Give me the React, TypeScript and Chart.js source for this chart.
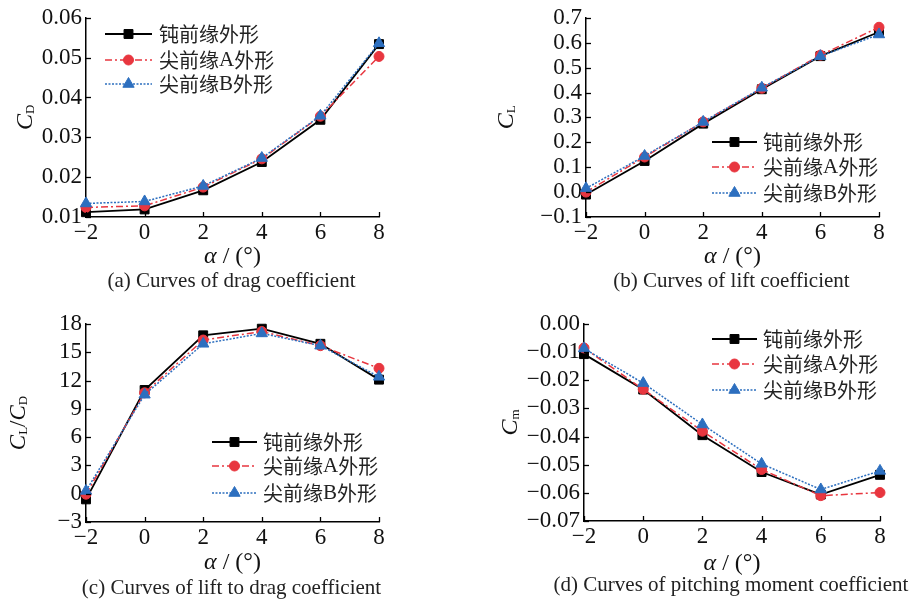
import React, { useEffect, useRef } from 'react';
import { Chart, registerables } from 'chart.js';

Chart.register(...registerables);

// ---------------- data ----------------
const ALPHA = [-2, 0, 2, 4, 6, 8];
const SERIES_NAMES = ['钝前缘外形', '尖前缘A外形', '尖前缘B外形'];

const CD_BLUNT = [0.0112, 0.0119, 0.0167, 0.0238, 0.0344, 0.0534];
const CD_SHARP_A = [0.0124, 0.0128, 0.0175, 0.0246, 0.0353, 0.0503];
const CD_SHARP_B = [0.0134, 0.0139, 0.0178, 0.0248, 0.0354, 0.0536];

const CL_BLUNT = [-0.01, 0.125, 0.275, 0.413, 0.546, 0.643];
const CL_SHARP_A = [0.0, 0.141, 0.282, 0.417, 0.55, 0.662];
const CL_SHARP_B = [0.015, 0.145, 0.282, 0.419, 0.546, 0.633];

const LD_BLUNT = [-0.6, 11.0, 16.8, 17.5, 15.9, 12.1];
const LD_SHARP_A = [-0.05, 10.7, 16.3, 17.2, 15.7, 13.3];
const LD_SHARP_B = [0.3, 10.5, 15.9, 17.0, 15.7, 12.4];

const CM_BLUNT = [-0.0107, -0.0233, -0.0395, -0.0526, -0.0606, -0.0536];
const CM_SHARP_A = [-0.0085, -0.0232, -0.0381, -0.0517, -0.061, -0.0599];
const CM_SHARP_B = [-0.0087, -0.021, -0.0357, -0.0497, -0.0588, -0.0522];

// tick ranges: [min, max, step, decimals]
const X_TICKS = [-2, 8, 2, 0];
const Y_TICKS_CD = [0.01, 0.06, 0.01, 2];
const Y_TICKS_CL = [-0.1, 0.7, 0.1, 1];
const Y_TICKS_LD = [-3, 18, 3, 0];
const Y_TICKS_CM = [-0.07, 0.0, 0.01, 2];

const CAPTIONS = [
  '(a) Curves of drag coefficient',
  '(b) Curves of lift coefficient',
  '(c) Curves of lift to drag coefficient',
  '(d) Curves of pitching moment coefficient',
];

// ---------------- styles ----------------
const SERIF = '"Liberation Serif", "Times New Roman", serif';
const CJK = '"Noto Sans CJK SC", sans-serif';
const STYLES = [
  { color: '#000000', dash: [] as number[], width: 1.8, point: 'rect', radius: 6.3 },
  { color: '#E8363F', dash: [7, 3, 2, 3], width: 1.5, point: 'circle', radius: 5 },
  { color: '#2D6FBF', dash: [2, 1.5], width: 1.5, point: 'triangle', radius: 6.5 },
];

type Part = { text: string; font: string; dy?: number };

const yTitleParts: Part[][] = [
  [
    { text: 'C', font: `italic 24px ${SERIF}` },
    { text: 'D', font: `13px ${SERIF}`, dy: 2 },
  ],
  [
    { text: 'C', font: `italic 24px ${SERIF}` },
    { text: 'L', font: `13px ${SERIF}`, dy: 2 },
  ],
  [
    { text: 'C', font: `italic 23px ${SERIF}` },
    { text: 'L', font: `13px ${SERIF}`, dy: 2 },
    { text: '/', font: `23px ${SERIF}` },
    { text: 'C', font: `italic 23px ${SERIF}` },
    { text: 'D', font: `13px ${SERIF}`, dy: 2 },
  ],
  [
    { text: 'C', font: `italic 24px ${SERIF}` },
    { text: 'm', font: `13px ${SERIF}`, dy: 2 },
  ],
];

// layout (panel-local coordinates)
const PANELS = [
  {
    left: 0, top: 0, width: 456, height: 300,
    area: { l: 86, t: 15, r: 379, b: 217 },
    yTitleX: 32, xTitleY: 257, captionY: 281,
    legend: { x0: 105, x1: 152, textX: 159, rows: [34, 60, 84] },
  },
  {
    left: 456, top: 0, width: 457, height: 300,
    area: { l: 130, t: 15, r: 423, b: 217 },
    yTitleX: 57, xTitleY: 257, captionY: 281,
    legend: { x0: 256, x1: 301, textX: 307, rows: [142, 167, 193] },
  },
  {
    left: 0, top: 300, width: 456, height: 304,
    area: { l: 86, t: 24, r: 379, b: 222 },
    yTitleX: 25, xTitleY: 263, captionY: 288,
    legend: { x0: 212, x1: 257, textX: 263, rows: [142, 166, 193] },
  },
  {
    left: 456, top: 300, width: 457, height: 304,
    area: { l: 128, t: 24, r: 424, b: 221 },
    yTitleX: 61, xTitleY: 264, captionY: 285,
    legend: { x0: 256, x1: 301, textX: 307, rows: [39, 64, 90] },
  },
];

const SERIES_SETS = [
  [CD_BLUNT, CD_SHARP_A, CD_SHARP_B],
  [CL_BLUNT, CL_SHARP_A, CL_SHARP_B],
  [LD_BLUNT, LD_SHARP_A, LD_SHARP_B],
  [CM_BLUNT, CM_SHARP_A, CM_SHARP_B],
];
const Y_TICK_SETS = [Y_TICKS_CD, Y_TICKS_CL, Y_TICKS_LD, Y_TICKS_CM];

const X_AXIS_H = 30;

function fmt(v: number, dec: number) {
  if (Math.abs(v) < 1e-9) v = 0;
  return v.toFixed(dec).replace('-', '\u2212');
}

function drawParts(ctx: CanvasRenderingContext2D, parts: Part[], x: number, y: number, align: 'center' | 'left') {
  const widths = parts.map((p) => {
    ctx.font = p.font;
    return ctx.measureText(p.text).width;
  });
  const total = widths.reduce((a, b) => a + b, 0);
  let cx = align === 'center' ? x - total / 2 : x;
  ctx.textAlign = 'left';
  parts.forEach((p, i) => {
    ctx.font = p.font;
    ctx.fillText(p.text, cx, y + (p.dy || 0));
    cx += widths[i];
  });
}

function drawMarker(ctx: CanvasRenderingContext2D, style: string, x: number, y: number, r: number) {
  ctx.beginPath();
  if (style === 'rect') {
    const s = Math.SQRT1_2 * r;
    ctx.rect(x - s, y - s, 2 * s, 2 * s);
  } else if (style === 'circle') {
    ctx.arc(x, y, r, 0, Math.PI * 2);
  } else {
    let rad = 0;
    ctx.moveTo(x + Math.sin(rad) * r, y - Math.cos(rad) * r);
    rad += (2 * Math.PI) / 3;
    ctx.lineTo(x + Math.sin(rad) * r, y - Math.cos(rad) * r);
    rad += (2 * Math.PI) / 3;
    ctx.lineTo(x + Math.sin(rad) * r, y - Math.cos(rad) * r);
    ctx.closePath();
  }
  ctx.fill();
  ctx.stroke();
}

const decorPlugin = {
  id: 'decor',
  afterDraw(chart: any, _args: any, opts: any) {
    const ctx: CanvasRenderingContext2D = chart.ctx;
    const area = chart.chartArea;
    const panel = opts.panel;
    const idx = opts.index;
    ctx.save();

    // inside tick marks
    ctx.strokeStyle = '#000';
    ctx.lineWidth = 1.3;
    const ys = chart.scales.y;
    ys.ticks.forEach((t: any) => {
      const y = Math.round(ys.getPixelForValue(t.value)) + 0.5;
      ctx.beginPath();
      ctx.moveTo(area.left, y);
      ctx.lineTo(area.left + 5, y);
      ctx.stroke();
    });
    const xs = chart.scales.x;
    xs.ticks.forEach((t: any) => {
      const x = Math.round(xs.getPixelForValue(t.value)) + 0.5;
      ctx.beginPath();
      ctx.moveTo(x, area.bottom);
      ctx.lineTo(x, area.bottom - 5);
      ctx.stroke();
    });

    // y title
    ctx.fillStyle = '#111';
    ctx.textBaseline = 'alphabetic';
    ctx.save();
    ctx.translate(panel.yTitleX, (area.top + area.bottom) / 2);
    ctx.rotate(-Math.PI / 2);
    drawParts(ctx, yTitleParts[idx], 0, 0, 'center');
    ctx.restore();

    // x title
    ctx.textBaseline = 'middle';
    drawParts(
      ctx,
      [
        { text: 'α', font: `italic 24px ${SERIF}` },
        { text: ' / (°)', font: `24px ${SERIF}` },
      ],
      (area.left + area.right) / 2,
      panel.xTitleY,
      'center'
    );

    // caption
    ctx.fillStyle = '#222';
    drawParts(ctx, [{ text: CAPTIONS[idx], font: `21px ${SERIF}` }], (area.left + area.right) / 2 - 1, panel.captionY, 'center');

    // legend
    const lg = panel.legend;
    SERIES_NAMES.forEach((name, i) => {
      const st = STYLES[i];
      const y = lg.rows[i];
      ctx.strokeStyle = st.color;
      ctx.lineWidth = st.width;
      ctx.setLineDash(st.dash);
      ctx.beginPath();
      ctx.moveTo(lg.x0, y);
      ctx.lineTo(lg.x1, y);
      ctx.stroke();
      ctx.setLineDash([]);
      ctx.fillStyle = st.color;
      ctx.lineWidth = 1;
      drawMarker(ctx, st.point, (lg.x0 + lg.x1) / 2, y, st.radius);
      const parts: Part[] = name
        .split(/([A-Z]+)/)
        .filter((s) => s.length > 0)
        .map((s) => ({ text: s, font: /[A-Z]/.test(s) ? `21px ${SERIF}` : `20px ${CJK}` }));
      ctx.fillStyle = '#222';
      ctx.textBaseline = 'middle';
      drawParts(ctx, parts, lg.textX, y, 'left');
    });

    ctx.restore();
  },
};

function Panel({ index }: { index: number }) {
  const ref = useRef<HTMLCanvasElement>(null);
  const panel = PANELS[index];
  useEffect(() => {
    if (!ref.current) return;
    const series = SERIES_SETS[index];
    const yt = Y_TICK_SETS[index];
    const a = panel.area;
    const chart = new Chart(ref.current, {
      type: 'line',
      data: {
        datasets: series.map((vals, i) => ({
          label: SERIES_NAMES[i],
          data: ALPHA.map((x, k) => ({ x, y: vals[k] })),
          borderColor: STYLES[i].color,
          backgroundColor: STYLES[i].color,
          borderWidth: STYLES[i].width,
          borderDash: STYLES[i].dash,
          pointStyle: STYLES[i].point as any,
          pointRadius: STYLES[i].radius,
          pointBorderWidth: 1,
          pointBackgroundColor: STYLES[i].color,
          pointBorderColor: STYLES[i].color,
          tension: 0,
          clip: false as any,
          order: 3 - i,
        })),
      },
      options: {
        responsive: false,
        animation: false,
        events: [],
        layout: {
          padding: {
            left: 0,
            top: a.t,
            right: panel.width - a.r,
            bottom: panel.height - a.b - X_AXIS_H,
          },
        },
        plugins: {
          legend: { display: false },
          tooltip: { enabled: false },
          decor: { panel, index },
        } as any,
        scales: {
          x: {
            type: 'linear',
            min: X_TICKS[0],
            max: X_TICKS[1],
            grid: { display: false, drawTicks: false },
            border: { display: true, color: '#000', width: 1.5 },
            ticks: {
              stepSize: X_TICKS[2],
              autoSkip: false,
              padding: 2,
              color: '#111',
              font: { family: SERIF, size: 23 },
              callback: (v: any) => fmt(Number(v), X_TICKS[3]),
            },
            afterFit: (s: any) => {
              s.height = X_AXIS_H;
            },
          },
          y: {
            type: 'linear',
            min: yt[0],
            max: yt[1],
            grid: { display: false, drawTicks: false },
            border: { display: true, color: '#000', width: 1.5 },
            ticks: {
              stepSize: yt[2],
              autoSkip: false,
              padding: 4,
              color: '#111',
              font: { family: SERIF, size: 23 },
              callback: (v: any) => fmt(Number(v), yt[3]),
            },
            afterFit: (s: any) => {
              s.width = a.l;
            },
          },
        },
      },
      plugins: [decorPlugin as any],
    });
    return () => chart.destroy();
  }, [index]);
  return (
    <canvas
      ref={ref}
      width={panel.width}
      height={panel.height}
      style={{
        position: 'absolute',
        left: panel.left,
        top: panel.top,
        width: panel.width,
        height: panel.height,
      }}
    />
  );
}

export default function App() {
  return (
    <div
      style={{
        position: 'absolute',
        left: 0,
        top: 0,
        width: 913,
        height: 604,
        background: '#ffffff',
        overflow: 'hidden',
      }}
    >
      {PANELS.map((_, i) => (
        <Panel key={i} index={i} />
      ))}
    </div>
  );
}
